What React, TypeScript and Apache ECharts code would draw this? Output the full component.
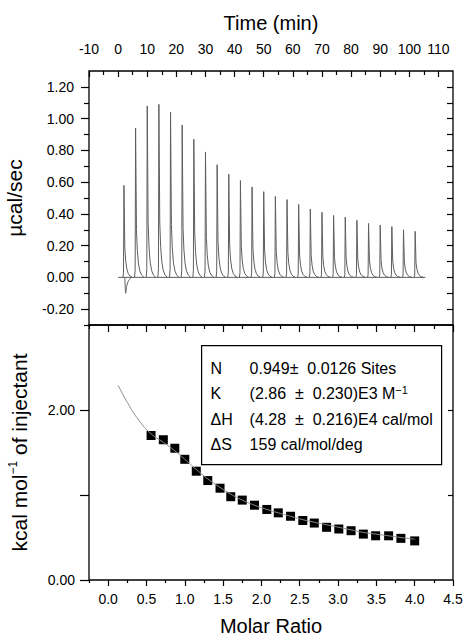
import { useEffect, useRef } from "react";
import * as echarts from "echarts";

// ---- Raw ITC thermogram ----
// Time of each injection peak (min) and the peak height (µcal/sec)
const injectionTimes = [2, 6, 10, 14, 18, 22, 26, 30, 34, 38, 42, 46, 50, 54, 58, 62, 66, 70, 74, 78, 82, 86, 90, 94, 98, 102];
const peakHeights = [0.58, 0.94, 1.08, 1.09, 1.04, 0.96, 0.87, 0.79, 0.71, 0.65, 0.61, 0.57, 0.54, 0.51, 0.49, 0.46, 0.43, 0.41, 0.39, 0.38, 0.36, 0.34, 0.33, 0.32, 0.30, 0.29];
// Baseline of the run
const baselineTimes = [0, 105.5];
const baselineValues = [0, 0];
// Small endothermic dip right after the first injection
const dipTimes = [2.3, 2.6, 3.0, 3.6, 4.6];
const dipValues = [0, -0.1, -0.05, -0.02, 0];

// ---- Integrated heats ----
const molarRatio = [0.56, 0.72, 0.87, 1.0, 1.15, 1.3, 1.46, 1.6, 1.75, 1.91, 2.07, 2.22, 2.38, 2.54, 2.69, 2.85, 3.01, 3.17, 3.33, 3.49, 3.66, 3.82, 4.0];
const heatPerMole = [1.7, 1.65, 1.55, 1.42, 1.28, 1.17, 1.08, 0.98, 0.94, 0.88, 0.83, 0.79, 0.75, 0.7, 0.67, 0.62, 0.6, 0.58, 0.54, 0.52, 0.52, 0.49, 0.46];
// One-site fit curve
const fitRatio = [0.13, 0.25, 0.4, 0.56, 0.72, 0.87, 1.0, 1.15, 1.3, 1.46, 1.6, 1.75, 1.91, 2.07, 2.22, 2.38, 2.54, 2.69, 2.85, 3.01, 3.17, 3.33, 3.49, 3.66, 3.82, 4.0];
const fitHeat = [2.29, 2.09, 1.88, 1.72, 1.62, 1.52, 1.42, 1.3, 1.19, 1.09, 1.01, 0.94, 0.88, 0.83, 0.79, 0.75, 0.71, 0.68, 0.65, 0.62, 0.59, 0.56, 0.54, 0.52, 0.5, 0.48];

// Fit parameters
const paramNames = ["N", "K", "\u0394H", "\u0394S"];
const paramValues = [
  "0.949\u00b1  0.0126 Sites",
  "(2.86  \u00b1  0.230)E3 M{sup|\u22121}",
  "(4.28  \u00b1  0.216)E4 cal/mol",
  "159 cal/mol/deg",
];

// ---- Tick values ----
const timeTicks = [-10, 0, 10, 20, 30, 40, 50, 60, 70, 80, 90, 100, 110];
const timeMinorTicks = [-5, 5, 15, 25, 35, 45, 55, 65, 75, 85, 95, 105];
const powerTicks = [-0.2, 0, 0.2, 0.4, 0.6, 0.8, 1.0, 1.2];
const powerMinorTicks = [-0.3, -0.1, 0.1, 0.3, 0.5, 0.7, 0.9, 1.1];
const powerRightTicks = [-0.2, -0.1, 0, 0.1, 0.2, 0.3, 0.4, 0.5, 0.6, 0.7, 0.8, 0.9, 1.0, 1.1, 1.2];
const ratioTicks = [0, 0.5, 1.0, 1.5, 2.0, 2.5, 3.0, 3.5, 4.0, 4.5];
const ratioMinorTicks = [-0.25, 0.25, 0.75, 1.25, 1.75, 2.25, 2.75, 3.25, 3.75, 4.25];
const heatTicks = [0, 1, 2];
const heatLabelTicks = [0, 2];
const heatRightTicks = [1, 2];

const FONT = "'Liberation Sans', Arial, Helvetica, sans-serif";
const BLACK = "#000";
const TRACE = "#5e5e5e";

// Shape of a single injection peak: [minutes from top, fraction of height]
const peakProfile: [number, number][] = [
  [-0.35, 0],
  [-0.15, 0.05],
  [0, 1],
  [0.3, 0.32],
  [0.6, 0.18],
  [1.0, 0.09],
  [1.5, 0.04],
  [2.1, 0.015],
  [2.9, 0],
];

const zip = (a: number[], b: number[]) => a.map((v, i) => [v, b[i]]);

const tickStyle = { color: BLACK, width: 1.2 };
const labelStyle = { color: BLACK, fontSize: 14, fontFamily: FONT };

// An axis that only draws a set of ticks (no line, no labels)
function tickAxis(base: any, ticks: number[], length: number, inside: boolean) {
  return {
    type: "value",
    ...base,
    axisLine: { show: false, onZero: false },
    splitLine: { show: false },
    axisLabel: { show: false },
    axisTick: { show: true, inside, length, customValues: ticks, lineStyle: tickStyle },
  };
}

function buildOption(): any {
  const timeBase = { gridIndex: 0, min: -10, max: 115, position: "top" };
  const ratioBase = { gridIndex: 1, min: -0.25, max: 4.5 };
  const powerBase = { gridIndex: 0, min: -0.3, max: 1.3 };
  const heatBase = { gridIndex: 1, min: 0, max: 3 };

  return {
    animation: false,
    backgroundColor: "#fff",
    textStyle: { fontFamily: FONT },
    grid: [
      { left: 89, top: 71, width: 364, height: 254, show: true, borderColor: BLACK, borderWidth: 1.3, backgroundColor: "transparent", outerBoundsMode: "none" },
      { left: 89, top: 325, width: 364, height: 255, show: true, borderColor: BLACK, borderWidth: 1.3, backgroundColor: "transparent", outerBoundsMode: "none" },
    ],
    xAxis: [
      {
        type: "value",
        ...timeBase,
        name: "Time (min)",
        nameLocation: "middle",
        nameGap: 38,
        nameTextStyle: { color: BLACK, fontSize: 20, fontFamily: FONT },
        axisLine: { show: false, onZero: false },
        splitLine: { show: false },
        axisTick: { show: true, inside: true, length: 6, customValues: timeTicks, lineStyle: tickStyle },
        axisLabel: { ...labelStyle, customValues: timeTicks, margin: 15, formatter: (v: number) => String(Math.round(v)) },
      },
      tickAxis(timeBase, timeMinorTicks, 4, true),
      {
        type: "value",
        ...ratioBase,
        position: "bottom",
        name: "Molar Ratio",
        nameLocation: "middle",
        nameGap: 36,
        nameTextStyle: { color: BLACK, fontSize: 20, fontFamily: FONT },
        axisLine: { show: false, onZero: false },
        splitLine: { show: false },
        axisTick: { show: true, inside: false, length: 6, customValues: ratioTicks, lineStyle: tickStyle },
        axisLabel: { ...labelStyle, customValues: ratioTicks, margin: 12, formatter: (v: number) => v.toFixed(1) },
      },
      tickAxis({ ...ratioBase, position: "bottom" }, ratioMinorTicks, 3, false),
      tickAxis({ ...ratioBase, position: "top" }, ratioTicks, 7, true),
      tickAxis({ ...ratioBase, position: "top" }, ratioMinorTicks, 4, true),
    ],
    yAxis: [
      {
        type: "value",
        ...powerBase,
        position: "left",
        name: "\u00b5cal/sec",
        nameLocation: "middle",
        nameGap: 64,
        nameTextStyle: { color: BLACK, fontSize: 21, fontFamily: FONT },
        axisLine: { show: false, onZero: false },
        splitLine: { show: false },
        axisTick: { show: true, inside: false, length: 8, customValues: powerTicks, lineStyle: tickStyle },
        axisLabel: { ...labelStyle, customValues: powerTicks, margin: 15, formatter: (v: number) => v.toFixed(2) },
      },
      tickAxis({ ...powerBase, position: "left" }, powerMinorTicks, 5, false),
      tickAxis({ ...powerBase, position: "right" }, powerRightTicks, 6, true),
      {
        type: "value",
        ...heatBase,
        position: "left",
        name: "kcal mol{sup|\u22121} of injectant",
        nameLocation: "middle",
        nameGap: 58,
        nameTextStyle: {
          color: BLACK,
          fontSize: 21,
          fontFamily: FONT,
          rich: { sup: { fontSize: 12, fontFamily: FONT, color: BLACK, verticalAlign: "top", lineHeight: 24 } },
        },
        axisLine: { show: false, onZero: false },
        splitLine: { show: false },
        axisTick: { show: true, inside: false, length: 9, customValues: heatTicks, lineStyle: tickStyle },
        axisLabel: { ...labelStyle, customValues: heatLabelTicks, margin: 14, formatter: (v: number) => v.toFixed(2) },
      },
      tickAxis({ ...heatBase, position: "right" }, heatRightTicks, 5, true),
    ],
    series: [
      {
        type: "line",
        xAxisIndex: 0,
        yAxisIndex: 0,
        data: zip(baselineTimes, baselineValues),
        symbol: "none",
        lineStyle: { color: TRACE, width: 1 },
      },
      {
        type: "line",
        xAxisIndex: 0,
        yAxisIndex: 0,
        data: zip(dipTimes, dipValues),
        symbol: "none",
        smooth: 0.3,
        lineStyle: { color: TRACE, width: 1 },
      },
      {
        type: "custom",
        xAxisIndex: 0,
        yAxisIndex: 0,
        data: zip(injectionTimes, peakHeights),
        clip: true,
        renderItem: (_params: any, api: any) => {
          const t = api.value(0);
          const h = api.value(1);
          const points = peakProfile.map(([dt, f]) => api.coord([t + dt, h * f]));
          return {
            type: "polyline",
            shape: { points, smooth: 0 },
            style: { stroke: TRACE, lineWidth: 1, fill: "none" },
          };
        },
      },
      {
        type: "line",
        xAxisIndex: 2,
        yAxisIndex: 3,
        data: zip(fitRatio, fitHeat),
        symbol: "none",
        smooth: true,
        lineStyle: { color: "#8c8c8c", width: 1 },
      },
      {
        type: "scatter",
        xAxisIndex: 2,
        yAxisIndex: 3,
        data: zip(molarRatio, heatPerMole),
        symbol: "rect",
        symbolSize: 9,
        itemStyle: { color: BLACK, opacity: 1 },
      },
    ],
    graphic: [
      {
        type: "group",
        left: 201,
        top: 345,
        children: [
          {
            type: "rect",
            shape: { x: 0, y: 0, width: 240, height: 119 },
            style: { fill: "#fff", stroke: BLACK, lineWidth: 1.2 },
          },
          ...paramNames.map((name, i) => ({
            type: "text",
            x: 9,
            y: 23 + i * 25.3,
            style: { text: name, fill: BLACK, fontSize: 16, fontFamily: FONT, verticalAlign: "middle" },
          })),
          ...paramValues.map((val, i) => ({
            type: "text",
            x: 48,
            y: 23 + i * 25.3,
            style: {
              text: val,
              fill: BLACK,
              fontSize: 16,
              fontFamily: FONT,
              verticalAlign: "middle",
              rich: { sup: { fontSize: 11, fontFamily: FONT, fill: BLACK, verticalAlign: "top", lineHeight: 19 } },
            },
          })),
        ],
      },
    ],
  };
}

export default function App() {
  const ref = useRef<HTMLDivElement>(null);
  useEffect(() => {
    document.body.style.margin = "0";
    const chart = echarts.init(ref.current!, undefined, { renderer: "svg" });
    chart.setOption(buildOption());
    return () => chart.dispose();
  }, []);
  return <div ref={ref} style={{ width: 466, height: 637, background: "#fff" }} />;
}
